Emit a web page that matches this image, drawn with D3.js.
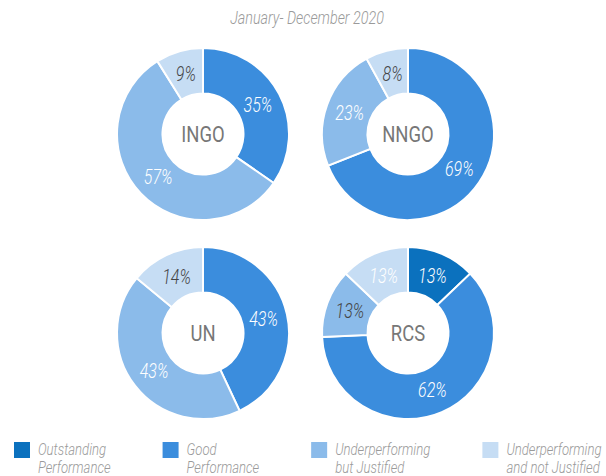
<!DOCTYPE html>
<html>
<head>
<meta charset="utf-8">
<script src="https://cdn.jsdelivr.net/npm/d3@7"></script>
<style>
  body { margin: 0; background: #fff; }
  text { font-family: Roboto, sans-serif; }
</style>
</head>
<body>
<svg id="chart" width="606" height="476"></svg>
<script>
// data
var categories = ["Outstanding Performance", "Good Performance", "Underperforming but Justified", "Underperforming and not Justified"];
var legendLines = [["Outstanding", "Performance"], ["Good", "Performance"], ["Underperforming", "but Justified"], ["Underperforming", "and not Justified"]];
var groups = ["INGO", "NNGO", "UN", "RCS"];
var ingoValues = [0, 35, 57, 9];
var nngoValues = [0, 69, 23, 8];
var unValues = [0, 43, 43, 14];
var rcsValues = [13, 62, 13, 13];
var title = "January- December 2020";

// label colour per slice (dark text on the light slices)
var labelDark = {
  INGO: [false, false, false, true],
  NNGO: [false, false, false, true],
  UN: [false, false, false, true],
  RCS: [false, false, true, false]
};

var colors = ["#0b71be", "#3b8ddd", "#8bbbea", "#c6ddf4"];
var color = d3.scaleOrdinal().domain(categories).range(colors);
var SQ = 0.82; // condensed look

var svg = d3.select("#chart");

svg.append("text")
  .attr("transform", "translate(307,24) scale(" + SQ + ",1)")
  .attr("text-anchor", "middle")
  .attr("font-size", 17.5)
  .attr("font-style", "italic")
  .attr("font-weight", 300)
  .attr("fill", "#9a9a9a")
  .text(title);

var allValues = [ingoValues, nngoValues, unValues, rcsValues];
var centers = [[203, 134], [408, 134], [203, 333], [408, 333]];
var outerR = 86, innerR = 40.5;

var pie = d3.pie().sort(null).value(function(d) { return d.value; });
var arc = d3.arc().innerRadius(innerR).outerRadius(outerR);
var labelArc = d3.arc().innerRadius(62).outerRadius(62);

groups.forEach(function(name, gi) {
  var rows = categories.map(function(c, i) { return {cat: c, value: allValues[gi][i], idx: i}; });
  var g = svg.append("g")
    .attr("transform", "translate(" + centers[gi][0] + "," + centers[gi][1] + ")");

  var arcs = pie(rows).filter(function(d) { return d.data.value > 0; });

  g.selectAll("path")
    .data(arcs)
    .enter().append("path")
    .attr("d", arc)
    .attr("fill", function(d) { return color(d.data.cat); })
    .attr("stroke", "#fff")
    .attr("stroke-width", 2);

  g.selectAll("text.val")
    .data(arcs)
    .enter().append("text")
    .attr("class", "val")
    .attr("transform", function(d) {
      var c = labelArc.centroid(d);
      return "translate(" + c[0] + "," + c[1] + ") scale(" + SQ + ",1)";
    })
    .attr("text-anchor", "middle")
    .attr("dy", "0.36em")
    .attr("font-size", 19.5)
    .attr("font-style", "italic")
    .attr("font-weight", 300)
    .attr("fill", function(d) { return labelDark[name][d.data.idx] ? "#444" : "#fff"; })
    .text(function(d) { return d.data.value + "%"; });

  g.append("text")
    .attr("text-anchor", "middle")
    .attr("dy", "0.36em")
    .attr("transform", "scale(" + SQ + ",1)")
    .attr("font-size", 22.5)
    .attr("font-weight", 400)
    .attr("fill", "#777")
    .text(name);
});

// legend, laid out left to right after each item's text
var legend = svg.append("g").attr("class", "legend");
var items = legend.selectAll("g")
  .data(categories)
  .enter().append("g");

items.append("rect")
  .attr("y", 442)
  .attr("width", 16).attr("height", 16)
  .attr("fill", function(d) { return color(d); });

var nextX = 14;
items.each(function(d, i) {
  var item = d3.select(this);
  item.attr("transform", "translate(" + nextX + ",0)");
  var t = item.append("text")
    .attr("transform", "translate(24,0) scale(" + SQ + ",1)")
    .attr("font-size", 16)
    .attr("font-style", "italic")
    .attr("font-weight", 300)
    .attr("fill", "#9a9a9a");
  legendLines[i].forEach(function(line, k) {
    t.append("tspan").attr("x", 0).attr("y", 455 + k * 18).text(line);
  });
  var w = t.node().getBBox().width * SQ;
  nextX += 24 + w + 52;
});
</script>
</body>
</html>
